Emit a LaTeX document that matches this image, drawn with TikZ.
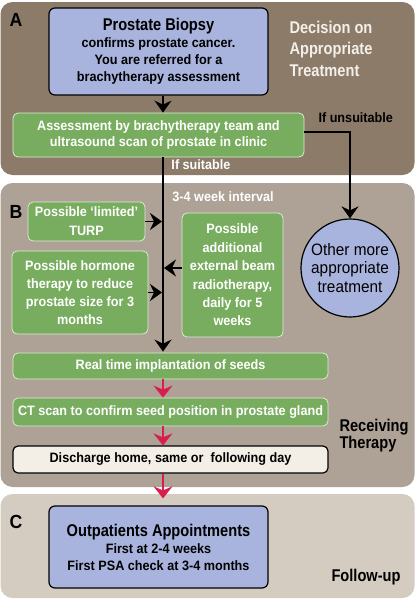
\documentclass[tikz,border=0pt]{standalone}
\usepackage{fontspec}
\setmainfont{Liberation Sans}[FakeStretch=0.93]
\newfontfamily\condfont{Liberation Sans}[FakeStretch=0.86]
\usetikzlibrary{arrows.meta}
\definecolor{panelA}{HTML}{8C7B69}
\definecolor{panelB}{HTML}{ADA295}
\definecolor{panelC}{HTML}{D5CCC1}
\definecolor{lavender}{HTML}{A8B4DD}
\definecolor{boxgreen}{HTML}{78AD5F}
\definecolor{greenline}{HTML}{DDEBD2}
\definecolor{cream}{HTML}{F3EEE6}
\definecolor{arrowred}{HTML}{D81E4C}
\definecolor{lighttext}{HTML}{F3EFE9}
\tikzset{
  panel/.style={rounded corners=12pt, draw=none},
  greenbox/.style={draw=greenline, fill=boxgreen, rounded corners=5pt, line width=0.8pt,
    text=white, align=center, inner sep=0pt},
  bluebox/.style={draw=black, fill=lavender, rounded corners=6pt, line width=1.2pt,
    align=center, inner sep=0pt},
  boldtext/.style={font=\fontsize{13.6}{16}\selectfont\bfseries},
  bigtext/.style={font=\fontsize{17}{21.5}\selectfont\condfont\bfseries},
  letter/.style={font=\fontsize{19}{22}\selectfont\bfseries, anchor=west},
  blackarrow/.style={line width=1.9pt, -{Stealth[length=12pt,width=17pt,inset=4pt]}},
  redarrow/.style={line width=1.9pt, draw=arrowred, -{Stealth[length=12pt,width=19pt,inset=4pt]}},
}
\begin{document}
\begin{tikzpicture}[x=1pt,y=-1pt]
\useasboundingbox (0,0) rectangle (415,600);
% panels
\fill[panel, panelA] (0.5,2) rectangle (414.5,175);
\fill[panel, panelB] (0.5,183) rectangle (414.5,487);
\fill[panel, panelC] (0.5,494) rectangle (414.5,598);
\coordinate (spine) at (163,0);
% section letters
\node[letter] (la) at (6,20) {A};
\node[letter] (lb) at (6,212) {B};
\node[letter] (lc) at (6,522) {C};
% side labels
\node[bigtext, text=lighttext, align=left, anchor=west] (decision) at (286,48.5) {Decision on\\Appropriate\\Treatment};
\node[font=\fontsize{17}{17}\selectfont\condfont\bfseries, align=left, anchor=west] (receiving) at (336,435.5) {Receiving\\Therapy};
\node[font=\fontsize{17}{17}\selectfont\condfont\bfseries, anchor=west] (followup) at (328,577) {Follow-up};
% Panel A
\node[bluebox, font=\fontsize{13.6}{17}\selectfont\bfseries, minimum width=219pt, minimum height=87pt] (bio) at (158.5,51.5)
  {{\fontsize{17}{17}\selectfont\condfont\bfseries Prostate Biopsy}\\
   confirms prostate cancer.\\
   You are referred for a\\
   brachytherapy assessment};
\node[greenbox, font=\fontsize{13.6}{15.5}\selectfont\bfseries, minimum width=291pt, minimum height=44pt] (assess) at (158.5,135)
  {Assessment by brachytherapy team and\\ultrasound scan of prostate in clinic};
\node[boldtext, anchor=west] (unsuit) at (315,118) {If unsuitable};
\node[boldtext, text=white] (suit) at (201,165) {If suitable};
% Panel B
\node[boldtext, text=white] (interval) at (223,197) {3-4 week interval};
\node[greenbox, font=\fontsize{13.6}{19}\selectfont\bfseries, minimum width=117pt, minimum height=39pt] (turp) at (86.5,221.5)
  {Possible ‘limited’\\TURP};
\node[greenbox, font=\fontsize{13.6}{18}\selectfont\bfseries, minimum width=136pt, minimum height=83pt] (hormone) at (80,292.5)
  {Possible hormone\\therapy to reduce\\prostate size for 3\\months};
\node[greenbox, font=\fontsize{13.6}{18.4}\selectfont\bfseries, minimum width=101pt, minimum height=124pt] (ext) at (232.5,275)
  {Possible\\additional\\external beam\\radiotherapy,\\daily for 5\\weeks};
\node[bluebox, circle, minimum size=98pt, font=\fontsize{16.5}{18.5}\selectfont] (other) at (350,268)
  {Other more\\appropriate\\treatment};
\node[greenbox, boldtext, minimum width=315pt, minimum height=26pt] (implant) at (170.5,366)
  {Real time implantation of seeds};
\node[greenbox, boldtext, minimum width=315pt, minimum height=28pt] (ct) at (170.5,412)
  {CT scan to confirm seed position in prostate gland};
\node[bluebox, fill=cream, boldtext, minimum width=315pt, minimum height=27pt, rounded corners=5pt] (discharge) at (170.5,459.5)
  {Discharge home, same or\ \ following day};
% Panel C
\node[bluebox, font=\fontsize{13.6}{17}\selectfont\bfseries, minimum width=219pt, minimum height=82pt] (outpt) at (158.5,547)
  {{\fontsize{17}{19}\selectfont\condfont\bfseries Outpatients Appointments}\\
   First at 2-4 weeks\\
   First PSA check at 3-4 months};
% connectors
\draw[blackarrow] (bio.south -| spine) -- (assess.north -| spine);
\draw[blackarrow] (assess.south -| spine) -- ([yshift=1pt]implant.north -| spine);
\draw[blackarrow] ([yshift=3pt]assess.east) -| (other.north);
\draw[blackarrow] (turp.east) -- ([xshift=-1pt]turp.east -| spine);
\draw[blackarrow] (hormone.east) -- ([xshift=-1pt]hormone.east -| spine);
\draw[blackarrow] ([yshift=7pt]ext.west) -- ([xshift=1pt,yshift=7pt]ext.west -| spine);
\draw[redarrow] (implant.south -| spine) -- (ct.north -| spine);
\draw[redarrow] (ct.south -| spine) -- (discharge.north -| spine);
\draw[redarrow] (discharge.south -| spine) -- ([yshift=7pt]outpt.north -| spine);
\end{tikzpicture}
\end{document}
